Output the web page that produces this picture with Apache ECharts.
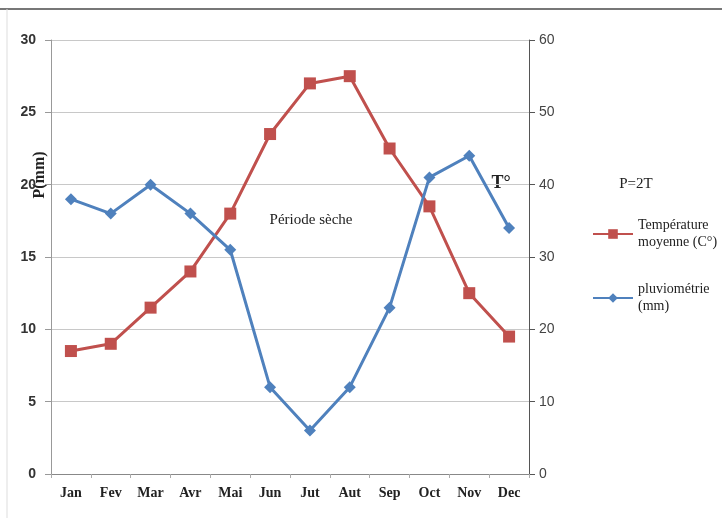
<!DOCTYPE html>
<html>
<head>
<meta charset="utf-8">
<script src="https://cdn.jsdelivr.net/npm/echarts@6/dist/echarts.min.js"></script>
<style>
  html, body { margin: 0; padding: 0; background: #fff; }
  #chart { width: 722px; height: 518px; }
</style>
</head>
<body>
<div id="chart"></div>
<script>
// Diagramme ombrothermique (P = 2T)
const mois = ["Jan", "Fev", "Mar", "Avr", "Mai", "Jun", "Jut", "Aut", "Sep", "Oct", "Nov", "Dec"];
// Température moyenne (axe gauche, 0-30)
const temperature = [8.5, 9, 11.5, 14, 18, 23.5, 27, 27.5, 22.5, 18.5, 12.5, 9.5];
// Pluviométrie en mm (axe droit, 0-60)
const pluviometrie = [38, 36, 40, 36, 31, 12, 6, 12, 23, 41, 44, 34];

const rouge = "#C0504D";
const bleu = "#4F81BD";

const chart = echarts.init(document.getElementById("chart"));

chart.setOption({
  backgroundColor: "#fff",
  animation: false,
  grid: { left: 51, right: 193, top: 40, bottom: 44 },
  legend: {
    orient: "vertical",
    left: 587,
    top: 212,
    itemGap: 30,
    itemWidth: 40,
    itemHeight: 12,
    data: ["temp", "pluie"],
    formatter: function (name) {
      return name === "temp" ? "Température\nmoyenne (C°)" : "pluviométrie\n(mm)";
    },
    textStyle: { fontFamily: "Liberation Serif", fontSize: 14, color: "#222", lineHeight: 17 }
  },
  xAxis: {
    type: "category",
    data: mois,
    boundaryGap: true,
    axisLine: { lineStyle: { color: "#888", width: 1 } },
    axisTick: { show: true, length: 4, lineStyle: { color: "#aaa" } },
    axisLabel: {
      fontFamily: "Liberation Serif", fontWeight: "bold", fontSize: 14,
      color: "#222", margin: 12
    }
  },
  yAxis: [
    {
      type: "value",
      min: 0, max: 30, interval: 5,
      position: "left",
      axisLine: { show: true, lineStyle: { color: "#999" } },
      axisTick: { show: true, length: 6, lineStyle: { color: "#999" } },
      splitLine: { lineStyle: { color: "#c8c8c8" } },
      axisLabel: { fontFamily: "Liberation Sans", fontWeight: "bold", fontSize: 14, color: "#333", margin: 15 }
    },
    {
      type: "value",
      min: 0, max: 60, interval: 10,
      position: "right",
      axisLine: { show: true, lineStyle: { color: "#555" } },
      axisTick: { show: true, length: 6, inside: false, lineStyle: { color: "#555" } },
      splitLine: { show: false },
      axisLabel: { fontFamily: "Liberation Sans", fontSize: 14, color: "#444", margin: 10 }
    }
  ],
  series: [
    {
      name: "temp",
      type: "line",
      yAxisIndex: 0,
      data: temperature,
      symbol: "rect",
      symbolSize: 12,
      lineStyle: { color: rouge, width: 3 },
      itemStyle: { color: rouge }
    },
    {
      name: "pluie",
      type: "line",
      yAxisIndex: 1,
      data: pluviometrie,
      symbol: "diamond",
      symbolSize: 12,
      lineStyle: { color: bleu, width: 3 },
      itemStyle: { color: bleu }
    }
  ],
  graphic: [
    { type: "line", shape: { x1: 0, y1: 9, x2: 722, y2: 9 }, style: { stroke: "#777", lineWidth: 2 } },
    { type: "line", shape: { x1: 7, y1: 9, x2: 7, y2: 518 }, style: { stroke: "#ddd", lineWidth: 1 } },
    {
      type: "text", x: 40, y: 175, rotation: Math.PI / 2,
      style: { text: "P(mm)", fontFamily: "Liberation Serif", fontWeight: "bold", fontSize: 16, fill: "#222", align: "center", verticalAlign: "middle" }
    },
    {
      type: "text", x: 501, y: 183,
      style: { text: "T°", fontFamily: "Liberation Serif", fontWeight: "bold", fontSize: 18, fill: "#222", align: "center", verticalAlign: "middle" }
    },
    {
      type: "text", x: 636, y: 184,
      style: { text: "P=2T", fontFamily: "Liberation Serif", fontSize: 15, fill: "#222", align: "center", verticalAlign: "middle" }
    },
    {
      type: "text", x: 311, y: 220,
      style: { text: "Période sèche", fontFamily: "Liberation Serif", fontSize: 15, fill: "#222", align: "center", verticalAlign: "middle" }
    }
  ]
});
</script>
</body>
</html>
